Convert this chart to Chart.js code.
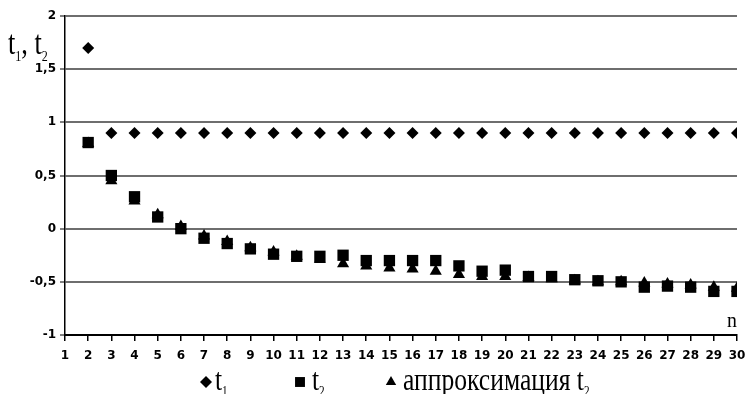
<!DOCTYPE html>
<html>
<head>
<meta charset="utf-8">
<script src="https://cdn.jsdelivr.net/npm/chart.js@4"></script>
<style>
  html, body { margin: 0; padding: 0; background: #fff; }
  #wrap { width: 746px; height: 394px; }
</style>
</head>
<body>
<div id="wrap"><canvas id="chart" width="746" height="394"></canvas></div>
<script>
// values
const nValues = [2, 3, 4, 5, 6, 7, 8, 9, 10, 11, 12, 13, 14, 15, 16, 17, 18, 19, 20, 21, 22, 23, 24, 25, 26, 27, 28, 29, 30];
const t1 = [1.7, 0.9, 0.9, 0.9, 0.9, 0.9, 0.9, 0.9, 0.9, 0.9, 0.9, 0.9, 0.9, 0.9, 0.9, 0.9, 0.9, 0.9, 0.9, 0.9, 0.9, 0.9, 0.9, 0.9, 0.9, 0.9, 0.9, 0.9, 0.9];
const t2 = [0.81, 0.5, 0.3, 0.11, 0.0, -0.09, -0.14, -0.19, -0.24, -0.26, -0.26, -0.25, -0.3, -0.3, -0.3, -0.3, -0.35, -0.4, -0.39, -0.45, -0.45, -0.48, -0.49, -0.5, -0.55, -0.54, -0.55, -0.59, -0.59];
const approx = [0.8, 0.45, 0.26, 0.13, 0.02, -0.07, -0.12, -0.18, -0.22, -0.26, -0.29, -0.33, -0.35, -0.37, -0.38, -0.4, -0.43, -0.45, -0.45, -0.46, -0.47, -0.49, -0.5, -0.5, -0.51, -0.52, -0.53, -0.55, -0.56];
const seriesLabels = ["t\u2081", "t\u2082", "\u0430\u043f\u043f\u0440\u043e\u043a\u0441\u0438\u043c\u0430\u0446\u0438\u044f t\u2082"];
const yTicks = [-1, -0.5, 0, 0.5, 1, 1.5, 2];

const toPoints = vals => vals.map((v, i) => ({ x: nValues[i], y: v }));

// y label, "n" and legend drawn on top of the chart
const extras = {
  id: "extras",
  afterDraw(chart) {
    const ctx = chart.ctx;
    const serif = '"Liberation Serif", "Times New Roman", serif';
    // text with a lowered small digit
    function sub(parts, x, y, size, sx) {
      ctx.save();
      ctx.translate(x, y);
      ctx.scale(sx, 1);
      let cx = 0;
      for (const p of parts) {
        ctx.font = (p.s ? Math.round(size * 0.45) : size) + "px " + serif;
        ctx.fillText(p.t, cx, p.s ? size * 0.2 : 0);
        cx += ctx.measureText(p.t).width;
      }
      ctx.restore();
    }
    ctx.fillStyle = "#000";
    ctx.textBaseline = "alphabetic";
    ctx.textAlign = "left";
    sub([{ t: "t" }, { t: "1", s: 1 }, { t: ", " }, { t: "t" }, { t: "2", s: 1 }], 8, 54, 33, 0.8);
    sub([{ t: "n" }], 727, 327, 22, 0.9);

    // legend
    const items = [
      { mx: 206, tx: 215, parts: [{ t: "t" }, { t: "1", s: 1 }] },
      { mx: 300, tx: 312, parts: [{ t: "t" }, { t: "2", s: 1 }] },
      { mx: 391, tx: 403, parts: [{ t: "\u0430\u043f\u043f\u0440\u043e\u043a\u0441\u0438\u043c\u0430\u0446\u0438\u044f " }, { t: "t" }, { t: "2", s: 1 }] }
    ];
    chart.data.datasets.forEach((ds, i) => {
      const it = items[i];
      ctx.save();
      ctx.fillStyle = "#000";
      ctx.strokeStyle = "#000";
      Chart.helpers.drawPoint(ctx, { pointStyle: ds.pointStyle, radius: ds.pointStyle === "rect" ? 7 : 6, rotation: 0, borderWidth: 0 }, it.mx, 382);
      ctx.restore();
      sub(it.parts, it.tx, 390, 32, 0.8);
    });
  }
};

const tickFont = { family: '"DejaVu Sans", Verdana, sans-serif', size: 12, weight: "bold" };

new Chart(document.getElementById("chart"), {
  type: "scatter",
  data: {
    datasets: [
      { label: seriesLabels[0], data: toPoints(t1), pointStyle: "rectRot", pointRadius: 6, backgroundColor: "#000", borderColor: "#000", borderWidth: 0, order: 0 },
      { label: seriesLabels[1], data: toPoints(t2), pointStyle: "rect", pointRadius: 8, backgroundColor: "#000", borderColor: "#000", borderWidth: 0, order: 1 },
      { label: seriesLabels[2], data: toPoints(approx), pointStyle: "triangle", pointRadius: 7, backgroundColor: "#000", borderColor: "#000", borderWidth: 0, order: 2 }
    ]
  },
  options: {
    responsive: false,
    animation: false,
    layout: { padding: { left: 0, right: 0, top: 16, bottom: 28 } },
    plugins: { legend: { display: false }, tooltip: { enabled: false } },
    scales: {
      x: {
        type: "linear",
        min: 1,
        max: 30,
        afterFit: s => { s.height = 31; s.paddingRight = 9; },
        ticks: {
          stepSize: 1,
          autoSkip: false,
          maxRotation: 0,
          padding: 8,
          color: "#000",
          font: tickFont
        },
        grid: { drawOnChartArea: false, drawTicks: true, tickLength: 6, color: "#000", lineWidth: 1.5 },
        border: { color: "#000", width: 2 }
      },
      y: {
        min: -1,
        max: 2,
        afterFit: s => { s.width = 65; },
        afterBuildTicks: s => { s.ticks = yTicks.map(v => ({ value: v })); },
        ticks: {
          padding: 4,
          color: "#000",
          font: tickFont,
          callback: v => String(v).replace(".", ",")
        },
        grid: { color: "#6e6e6e", lineWidth: 2, tickLength: 5, tickColor: "#000", tickWidth: 1 },
        border: { color: "#000", width: 1.5 }
      }
    }
  },
  plugins: [extras]
});
</script>
</body>
</html>
